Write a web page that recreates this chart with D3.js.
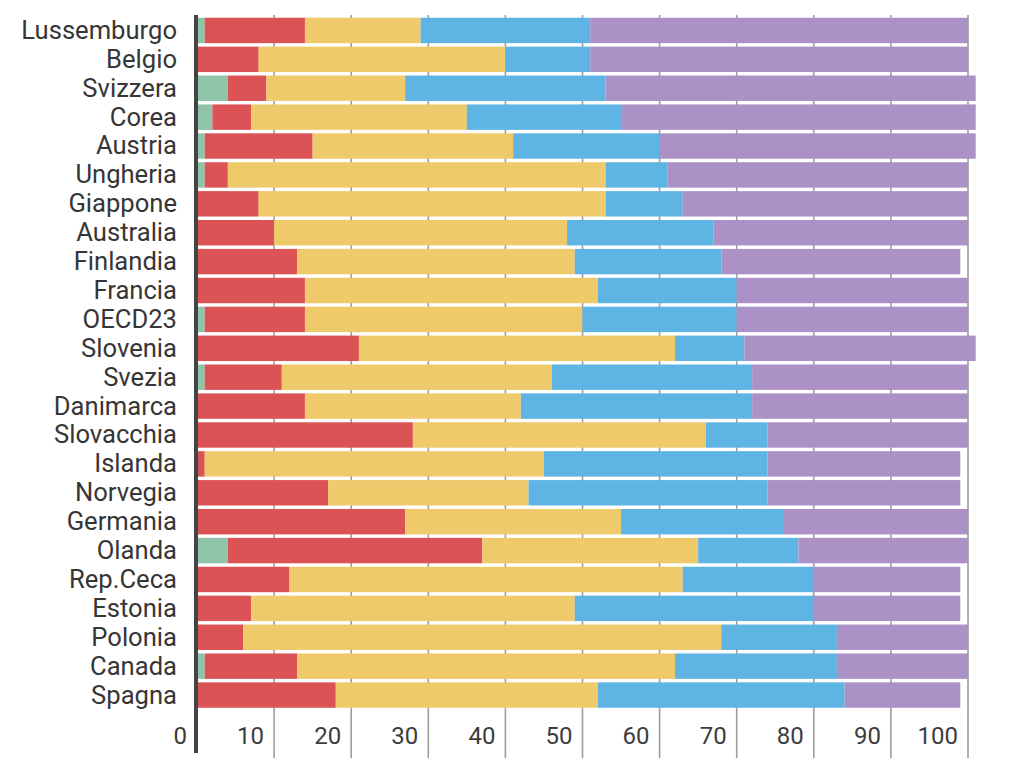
<!DOCTYPE html>
<html>
<head>
<meta charset="utf-8">
<script src="https://cdn.jsdelivr.net/npm/d3@7"></script>
<style>
  html, body { margin: 0; padding: 0; background: #fff; }
  svg { display: block; }
  text { font-family: Roboto, "Noto Sans", sans-serif; }
</style>
</head>
<body>
<svg id="chart" width="1012" height="774"></svg>
<script>
const categories = ["Lussemburgo","Belgio","Svizzera","Corea","Austria","Ungheria","Giappone","Australia","Finlandia","Francia","OECD23","Slovenia","Svezia","Danimarca","Slovacchia","Islanda","Norvegia","Germania","Olanda","Rep.Ceca","Estonia","Polonia","Canada","Spagna"];
const seriesKeys = ["s1","s2","s3","s4","s5"];
const s1 = [1,0,4,2,1,1,0,0,0,0,1,0,1,0,0,0,0,0,4,0,0,0,1,0];
const s2 = [13,8,5,5,14,3,8,10,13,14,13,21,10,14,28,1,17,27,33,12,7,6,12,18];
const s3 = [15,32,18,28,26,49,45,38,36,38,36,41,35,28,38,44,26,28,28,51,42,62,49,34];
const s4 = [22,11,26,20,19,8,10,19,19,18,20,9,26,30,8,29,31,21,13,17,31,15,21,32];
const s5 = [49,49,48,46,41,39,37,33,31,30,30,30,28,28,26,25,25,24,22,19,19,17,17,15];
const tickValues = [0,10,20,30,40,50,60,70,80,90,100];
const colors = ["#8fc4a9","#dc5355","#eeca6b","#5eb5e3","#ac91c7"];

const seriesArrays = [s1,s2,s3,s4,s5];
const rows = categories.map((c,i) => {
  const o = {cat: c};
  seriesKeys.forEach((k,j) => o[k] = seriesArrays[j][i]);
  return o;
});
const stacked = d3.stack().keys(seriesKeys)(rows);

const svg = d3.select("#chart");
const x = d3.scaleLinear().domain([0,100]).range([197,968]);
const y = d3.scaleBand().domain(categories).range([16,709.5]).paddingInner(0.12).paddingOuter(0.06);

// gridlines
svg.append("g").selectAll("line").data(tickValues.filter(d => d > 0)).join("line")
  .attr("x1", d => x(d)).attr("x2", d => x(d))
  .attr("y1", 15).attr("y2", 758)
  .attr("stroke", "#9e9e9e").attr("stroke-width", 1.6);

// bars
svg.append("g").selectAll("g").data(stacked).join("g")
  .attr("fill", (d,i) => colors[i])
  .selectAll("rect").data(d => d).join("rect")
  .attr("x", d => x(d[0]))
  .attr("width", d => Math.max(0, x(d[1]) - x(d[0])))
  .attr("y", d => y(d.data.cat))
  .attr("height", y.bandwidth());

// tick labels
svg.append("g").selectAll("text").data(tickValues).join("text")
  .attr("x", d => x(d) - 10)
  .attr("y", 744)
  .attr("text-anchor", "end")
  .attr("font-size", 24)
  .attr("fill", "#3c3c3c")
  .text(d => d);

// category labels
svg.append("g").selectAll("text").data(categories).join("text")
  .attr("x", 177)
  .attr("y", d => y(d) + y.bandwidth()/2)
  .attr("dy", "0.33em")
  .attr("text-anchor", "end")
  .attr("font-size", 25.6)
  .attr("fill", "#363636")
  .text(d => d);

// axis line
svg.append("line")
  .attr("x1", 196).attr("x2", 196)
  .attr("y1", 15).attr("y2", 753)
  .attr("stroke", "#444").attr("stroke-width", 4);
</script>
</body>
</html>
